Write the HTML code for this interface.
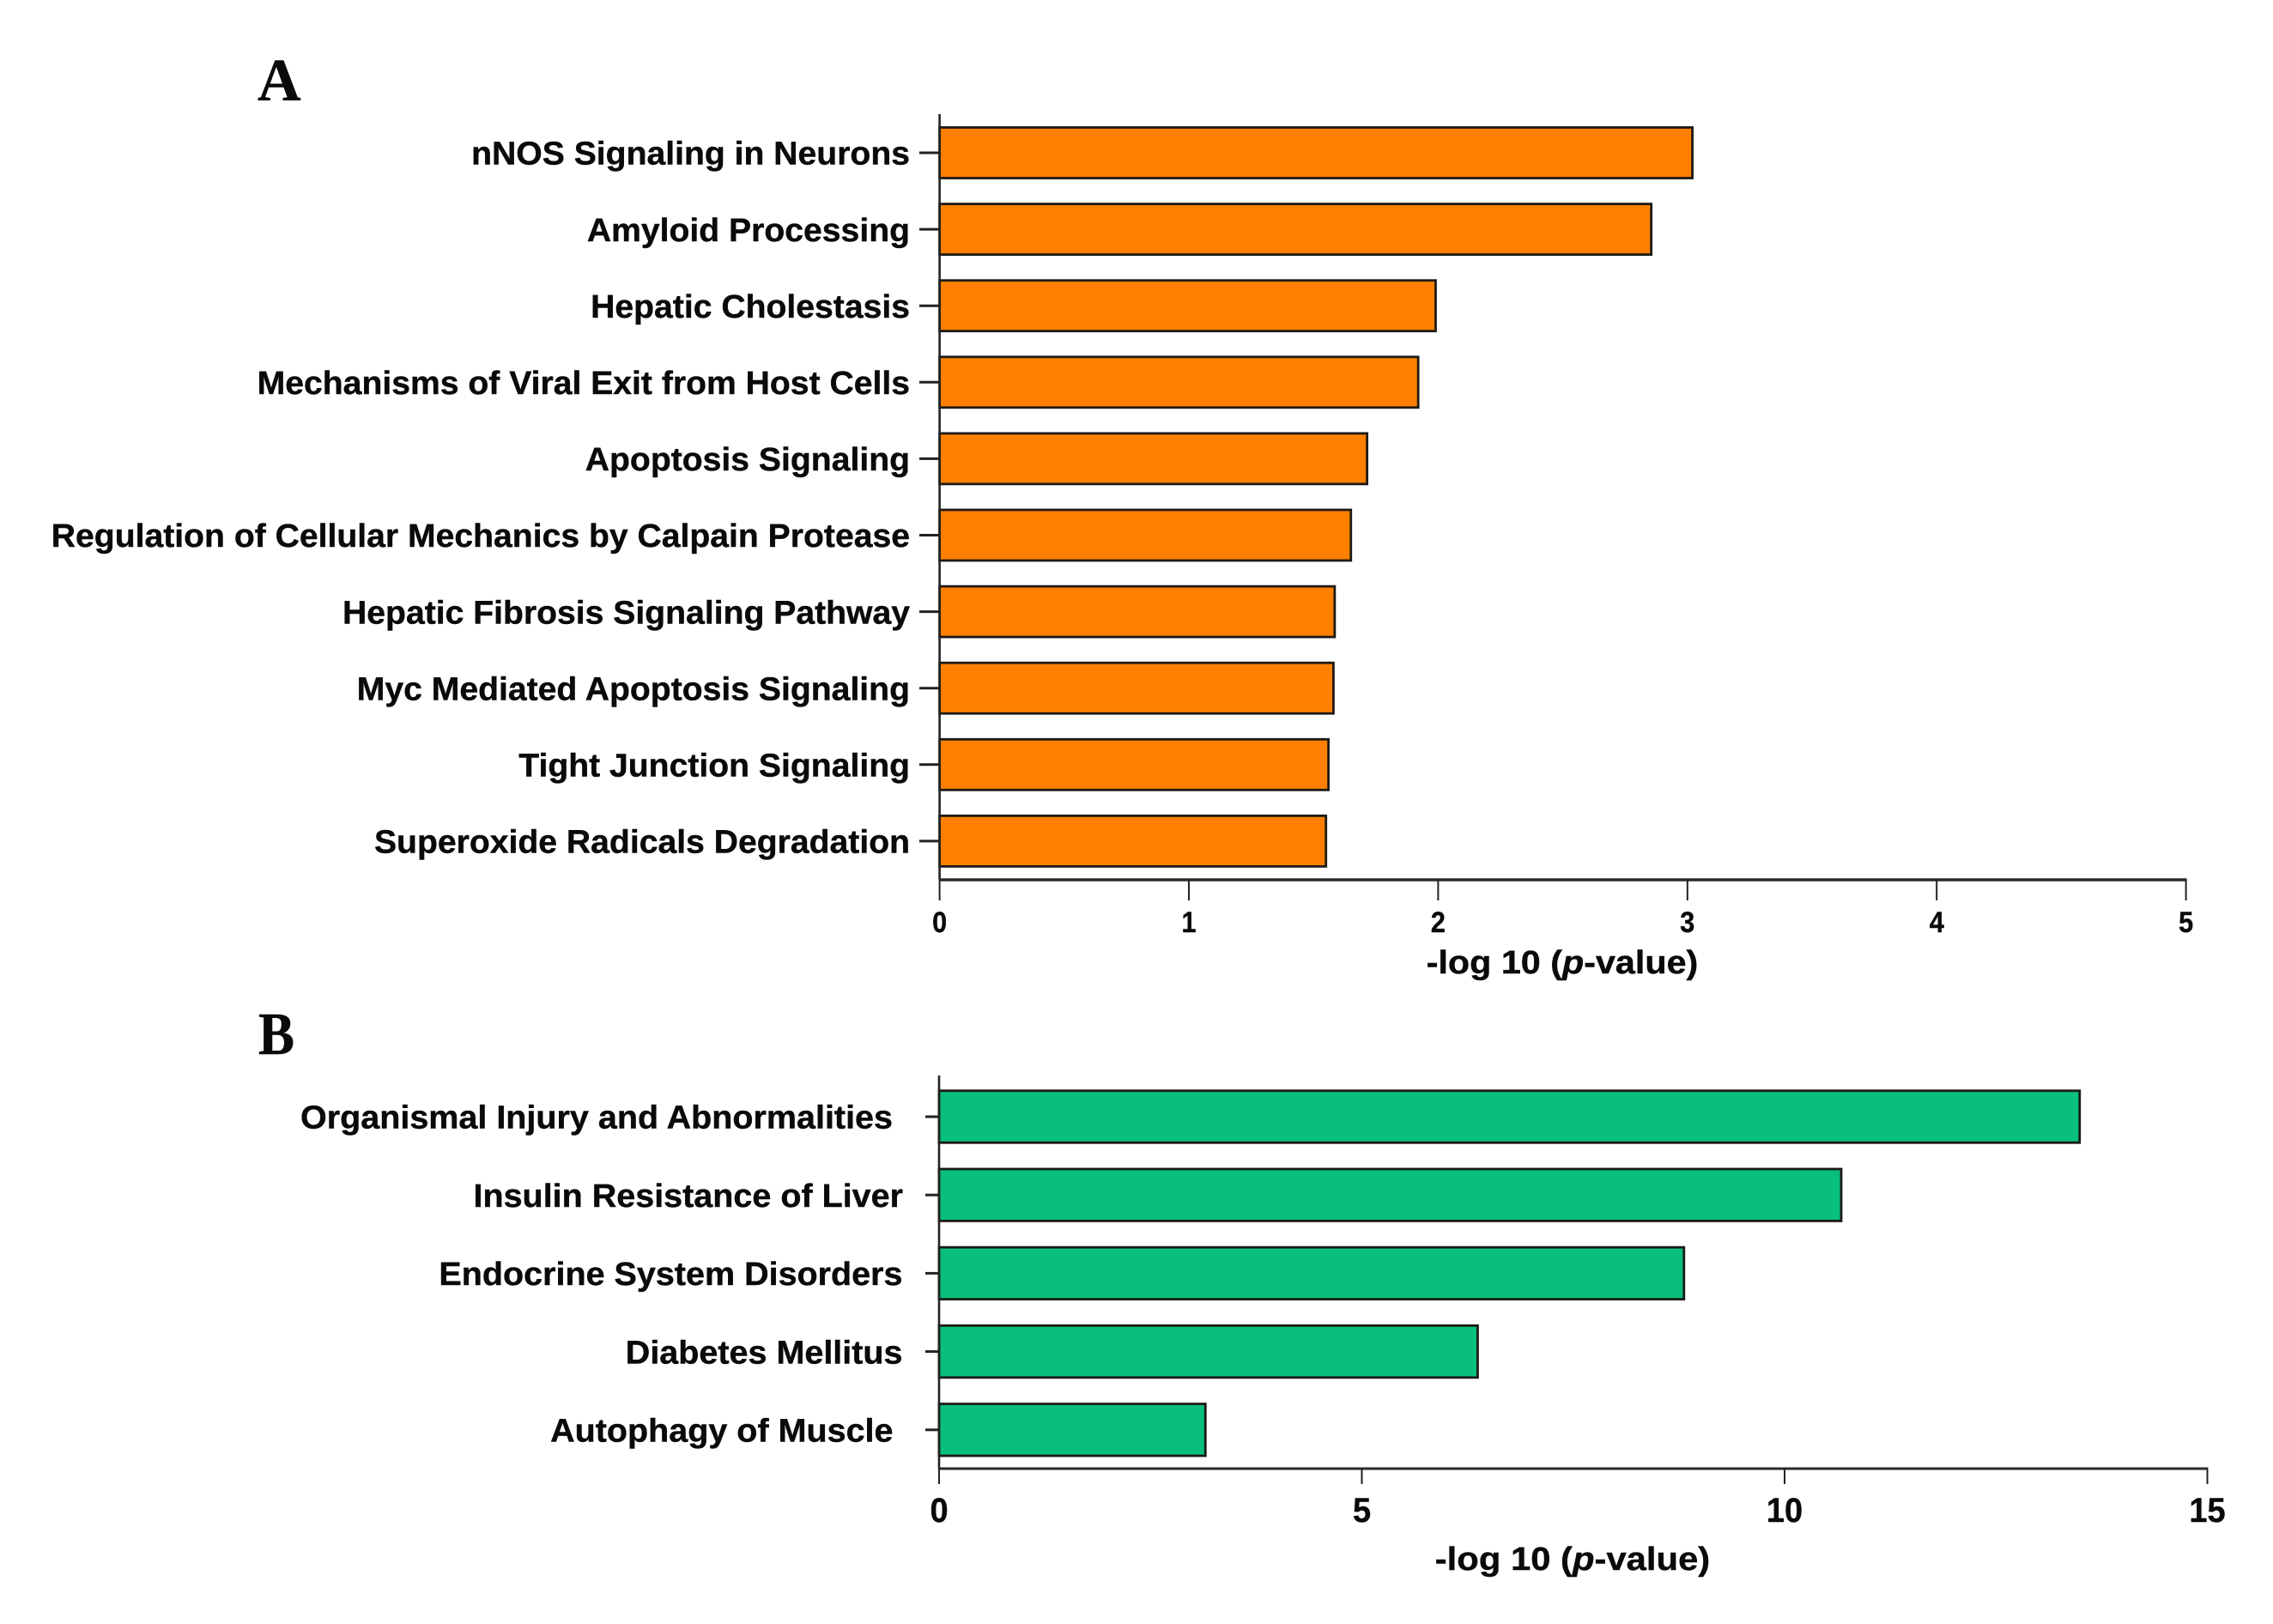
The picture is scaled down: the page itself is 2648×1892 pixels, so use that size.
<!DOCTYPE html>
<html>
<head>
<meta charset="utf-8">
<title>Pathway and disease bar charts</title>
<style>
html,body{margin:0;padding:0;background:#fff;}
svg{display:block;}
text{font-family:"Liberation Sans",Arial,sans-serif;font-weight:bold;fill:#0a0a0a;stroke:#0a0a0a;stroke-width:0.4px;}
.letter{font-family:"Liberation Serif",serif;font-size:70px;}
</style>
</head>
<body>
<svg id="chart" width="2648" height="1892" viewBox="0 0 2648 1892" xmlns="http://www.w3.org/2000/svg">
<text class="letter" x="300" y="117">A</text>
<text class="letter" transform="translate(301,1228) scale(0.9,1)">B</text>
</svg>
<script>
var categoriesA = ["nNOS Signaling in Neurons","Amyloid Processing","Hepatic Cholestasis","Mechanisms of Viral Exit from Host Cells","Apoptosis Signaling","Regulation of Cellular Mechanics by Calpain Protease","Hepatic Fibrosis Signaling Pathway","Myc Mediated Apoptosis Signaling","Tight Junction Signaling","Superoxide Radicals Degradation"];
var valuesA = [3.02,2.855,1.99,1.92,1.715,1.65,1.585,1.58,1.56,1.55];
var ticksA = [0,1,2,3,4,5];
var categoriesB = ["Organismal Injury and Abnormalities","Insulin Resistance of Liver","Endocrine System Disorders","Diabetes Mellitus","Autophagy of Muscle"];
var valuesB = [13.49,10.67,8.81,6.37,3.15];
var ticksB = [0,5,10,15];

var svg = document.getElementById('chart');
var NS = 'http://www.w3.org/2000/svg';

function make(tag, attrs, parent) {
  var el = document.createElementNS(NS, tag);
  for (var k in attrs) el.setAttribute(k, attrs[k]);
  parent.appendChild(el);
  return el;
}

function drawPanel(cfg) {
  var x = function (v) { return cfg.x0 + (v - cfg.ticks[0]) * cfg.unit; };
  var yc = function (i) { return cfg.yFirst + i * cfg.pitch; };
  var g = make('g', {}, svg);
  
  

  cfg.values.forEach(function (v, i) {
    var bar = make('rect', {x: x(0), y: yc(i) - cfg.barH / 2, width: x(v) - x(0), height: cfg.barH, fill: cfg.color, stroke: '#1c1a14', 'stroke-width': 2.8}, g);
    
    
    var tick = make('line', {x1: cfg.yTickX, x2: x(0), y1: yc(i), y2: yc(i), stroke: '#222', 'stroke-width': 3}, g);
    
    
    var ly = yc(i) + cfg.fontSize * 0.36;
    var rx = cfg.labelRight[i];
    var label = make('text', {transform: 'translate(' + rx + ',' + ly + ') scale(' + cfg.sx + ',1)', 'text-anchor': 'end', 'font-size': cfg.fontSize}, g);
    label.textContent = cfg.categories[i];
    
    
  });

  var yAxis = make('line', {x1: x(0), x2: x(0), y1: cfg.axisTop, y2: cfg.axisY, stroke: '#222', 'stroke-width': 2.6}, g);
  
  
  var xAxis = make('line', {x1: x(0) - 1, x2: x(cfg.ticks[cfg.ticks.length - 1]) + 1, y1: cfg.axisY, y2: cfg.axisY, stroke: '#2a2a2a', 'stroke-width': cfg.axisW}, g);
  
  

  cfg.ticks.forEach(function (t) {
    var tick = make('line', {x1: x(t), x2: x(t), y1: cfg.axisY, y2: cfg.tickEnd, stroke: '#222', 'stroke-width': 2}, g);
    
    
    var lab = make('text', {transform: 'translate(' + x(t) + ',' + cfg.tickLabelY + ') scale(' + cfg.tickSx + ',1)', 'text-anchor': 'middle', 'font-size': cfg.tickFont}, g);
    lab.textContent = t;
    
    
  });

  var title = make('text', {transform: 'translate(' + cfg.titleX + ',' + cfg.titleY + ') scale(' + cfg.titleSx + ',1)', 'text-anchor': 'middle', 'font-size': cfg.fontSize}, g);
  
  
  title.appendChild(document.createTextNode('-log 10 ('));
  var p = make('tspan', {'font-style': 'italic'}, title);
  p.textContent = 'p';
  title.appendChild(document.createTextNode('-value)'));
}

drawPanel({
  id: 'panel-a', categories: categoriesA, values: valuesA, ticks: ticksA,
  color: '#ff8000', x0: 1094.6, unit: 290.4, yFirst: 178, pitch: 89.1, barH: 59,
  yTickX: 1071, labelRight: categoriesA.map(function () { return 1060; }),
  axisTop: 133, axisY: 1025, axisW: 3.6, tickEnd: 1049, tickLabelY: 1086, tickFont: 34, tickSx: 0.9,
  fontSize: 38, sx: 1.03, titleX: 1820, titleY: 1134, titleSx: 1.087
});
drawPanel({
  id: 'panel-b', categories: categoriesB, values: valuesB, ticks: ticksB,
  color: '#08bf7b', x0: 1094, unit: 98.5, yFirst: 1301, pitch: 91.2, barH: 60.5,
  yTickX: 1078, labelRight: [1040, 1052, 1051.5, 1051.5, 1040.5],
  axisTop: 1253, axisY: 1711, axisW: 3, tickEnd: 1729, tickLabelY: 1773, tickFont: 40, tickSx: 0.95,
  fontSize: 38, sx: 1.04, titleX: 1832, titleY: 1829, titleSx: 1.1
});
</script>
</body>
</html>
